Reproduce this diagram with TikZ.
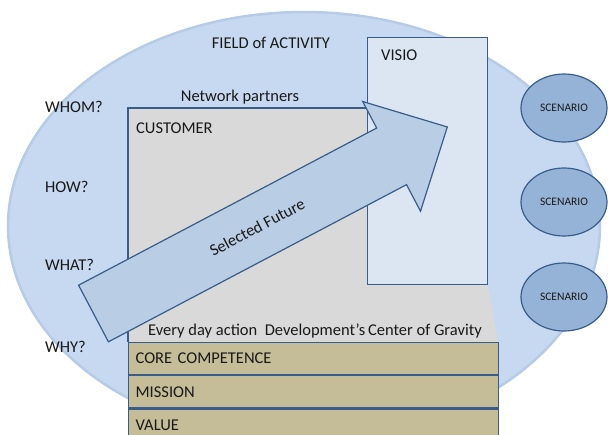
\documentclass[tikz,border=0pt]{standalone}
\usepackage{fontspec}
\setmainfont{Carlito}
\usetikzlibrary{shapes.geometric,positioning,calc}

\definecolor{fieldblue}{RGB}{198,217,240}
\definecolor{fieldrim}{RGB}{182,203,229}
\definecolor{edgeblue}{RGB}{56,93,138}
\definecolor{visiofill}{RGB}{220,230,242}
\definecolor{custgray}{RGB}{217,217,217}
\definecolor{arrowfill}{RGB}{185,205,229}
\definecolor{scenfill}{RGB}{149,179,215}
\definecolor{tanfill}{RGB}{196,189,151}
\definecolor{ink}{RGB}{25,25,25}

\begin{document}
\begin{tikzpicture}[x=1pt, y=-1pt,
        txt/.style={font=\fontsize{16.5}{18}\selectfont, text=ink, inner sep=0pt},
        box/.style={draw=edgeblue, line width=1.2pt},
        tanrow/.style={box, rectangle, fill=tanfill, minimum width=370pt, minimum height=32pt,
        text width=356pt, align=left, inner xsep=7pt, inner ysep=0pt, text=ink,
        font=\fontsize{16.5}{18}\selectfont},
        scenario/.style={box, ellipse, fill=scenfill, minimum width=86pt, minimum height=68pt,
        inner sep=0pt, text=ink, font=\fontsize{11.5}{13}\selectfont}]
        \useasboundingbox (0,0) rectangle (608,434);
        \clip (0,0) rectangle (608,434);

        % field of activity
        \draw[fill=fieldblue, draw=fieldrim, line width=2.5pt] (304,226) ellipse [x radius=296pt, y radius=214pt];

        % customer area
        \fill[custgray] (128,108) -- (487,108) -- (487,284) .. controls (491,300) and (495,320) .. (498,342) -- (128,342) -- cycle;
        \draw[box] (128,342) -- (128,108) -- (367,108);

        % visio
        \node[box, fill=visiofill, rectangle, minimum width=120pt, minimum height=247pt, inner sep=0pt, anchor=north west] (visio) at (367,37) {};
        \node[txt, anchor=west] (visiotxt) at (381,55) {VISIO};

        % selected future
        \begin{scope}[shift={(93.5,313.5)}, rotate=27.8]
            \draw[box, fill=arrowfill, line join=miter] (0,-32) -- (337,-32) -- (337,-62) -- (400,0) -- (337,62) -- (337,32) -- (0,32) -- cycle;
            \node[txt, transform shape] (future) at (185,0) {Selected Future};
        \end{scope}

        % labels
        \node[txt] (field) at (271,43) {FIELD of ACTIVITY};
        \node[txt] (partners) at (240,97) {Network partners};
        \node[txt, anchor=west] (customer) at (136,128) {CUSTOMER};
        \node[txt, anchor=west] (whom) at (45,107) {WHOM?};
        \node[txt, anchor=west] (how) at (45,187) {HOW?};
        \node[txt, anchor=west] (what) at (45,265) {WHAT?};
        \node[txt, anchor=west] (why) at (45,347) {WHY?};
        \node[txt, anchor=west] (everyday) at (148,331) {Every day action~~Development’s\,Center of Gravity};

        % foundation
        \node[tanrow, anchor=north west] (core) at (128,342) {CORE COMPETENCE};
        \node[tanrow, below=0pt of core] (mission) {MISSION};
        \node[tanrow, below=0pt of mission] (value) {VALUE};

        % scenarios
        \foreach \y [count=\i] in {108,202,297}
            \node[scenario] (scen\i) at (564,\y) {SCENARIO};
    \end{tikzpicture}
\end{document}
